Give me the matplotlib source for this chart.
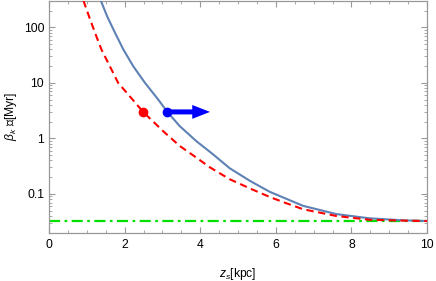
import matplotlib
matplotlib.use("Agg")
import matplotlib.pyplot as plt
from matplotlib.ticker import LogLocator, FixedLocator, MultipleLocator, NullFormatter

plt.rcParams['font.family'] = ['Liberation Sans', 'DejaVu Sans']
plt.rcParams['mathtext.fontset'] = 'custom'
plt.rcParams['mathtext.rm'] = 'Liberation Sans'
plt.rcParams['mathtext.it'] = 'Liberation Sans:italic'
plt.rcParams['mathtext.bf'] = 'Liberation Sans:bold'

# ---- data ----
blue_z = [1.37, 1.54, 1.75, 1.97, 2.23, 2.54, 2.89, 3.13, 3.46, 3.90, 4.34, 4.78,
          5.32, 5.84, 6.20, 6.72, 7.60, 8.48, 9.37, 10.0]
blue_T = [305, 157, 79, 39.6, 19.9, 10.0, 5.0, 3.0, 1.66, 0.89, 0.516, 0.29,
          0.171, 0.109, 0.086, 0.061, 0.0433, 0.0363, 0.0334, 0.0325]

red_z = [0.91, 1.06, 1.22, 1.39, 1.61, 1.83, 2.19, 2.49, 3.02, 3.46, 3.90, 4.26,
         4.78, 5.32, 5.84, 6.20, 6.72, 7.60, 8.48, 9.37, 10.0]
red_T = [305, 157, 79, 39.6, 19.9, 10.0, 5.2, 3.0, 1.35, 0.73, 0.45, 0.30,
         0.184, 0.125, 0.088, 0.071, 0.053, 0.040, 0.0342, 0.0330, 0.0325]

green_z = [0.0, 10.0]
green_T = [0.0325, 0.0325]

red_point = (2.49, 3.0)
blue_point = (3.13, 3.0)
arrow_tip_z = 4.26

x_ticks = [0, 2, 4, 6, 8, 10]
y_ticks = [0.1, 1, 10, 100]
y_tick_labels = ['0.1', '1', '10', '100']

# ---- figure ----
fig = plt.figure(figsize=(4.36, 2.81), dpi=100)
ax = fig.add_axes([49/436, 1 - 232.7/281, (427 - 49)/436, 232.2/281])

ax.plot(green_z, green_T, color='#00e000', lw=1.6, ls=(0, (5, 2, 1.2, 2)), zorder=2)
ax.plot(blue_z, blue_T, color='#5e81b5', lw=1.5, zorder=3, solid_joinstyle='round')
ax.plot(red_z, red_T, color='#ff0000', lw=1.5, ls=(0, (3.5, 2.2)), zorder=4)

ax.annotate('', xy=(arrow_tip_z, blue_point[1]), xytext=blue_point,
            arrowprops=dict(arrowstyle='simple,head_length=1.28,head_width=1.0,tail_width=0.36',
                            color='#0000ff', lw=0, mutation_scale=10,
                            shrinkA=0, shrinkB=0), zorder=6)
ax.plot([red_point[0]], [red_point[1]], 'o', color='#ff0000', ms=6, zorder=7)
ax.plot([blue_point[0]], [blue_point[1]], 'o', color='#0000ff', ms=6, zorder=7)

ax.set_yscale('log')
ax.set_xlim(0, 10)
ax.set_ylim(0.02, 305)

ax.xaxis.set_major_locator(FixedLocator(x_ticks))
ax.xaxis.set_minor_locator(MultipleLocator(0.5))
ax.set_xticklabels([str(t) for t in x_ticks])
ax.yaxis.set_major_locator(FixedLocator(y_ticks))
ax.set_yticklabels(y_tick_labels)
ax.yaxis.set_minor_locator(LogLocator(base=10, subs=[2, 3, 4, 5, 6, 7, 8, 9], numticks=20))
ax.yaxis.set_minor_formatter(NullFormatter())

frame_col = '#999999'
for s in ax.spines.values():
    s.set_color(frame_col)
    s.set_linewidth(0.9)
ax.tick_params(which='both', direction='in', top=True, right=True,
               color=frame_col, labelsize=8.7, labelcolor='black')
ax.tick_params(which='major', length=4, width=0.8)
ax.tick_params(which='minor', length=2.2, width=0.6)
ax.tick_params(axis='x', which='major', pad=4.5)
ax.tick_params(axis='y', which='major', pad=3.5)

ax.set_xlabel('$z_s$[kpc]', fontsize=8.7, labelpad=11)
ax.set_ylabel('$\\beta_k$ \U0001D54B[Myr]', fontsize=8.7, labelpad=3)

fig.savefig('out.png', dpi=100)
